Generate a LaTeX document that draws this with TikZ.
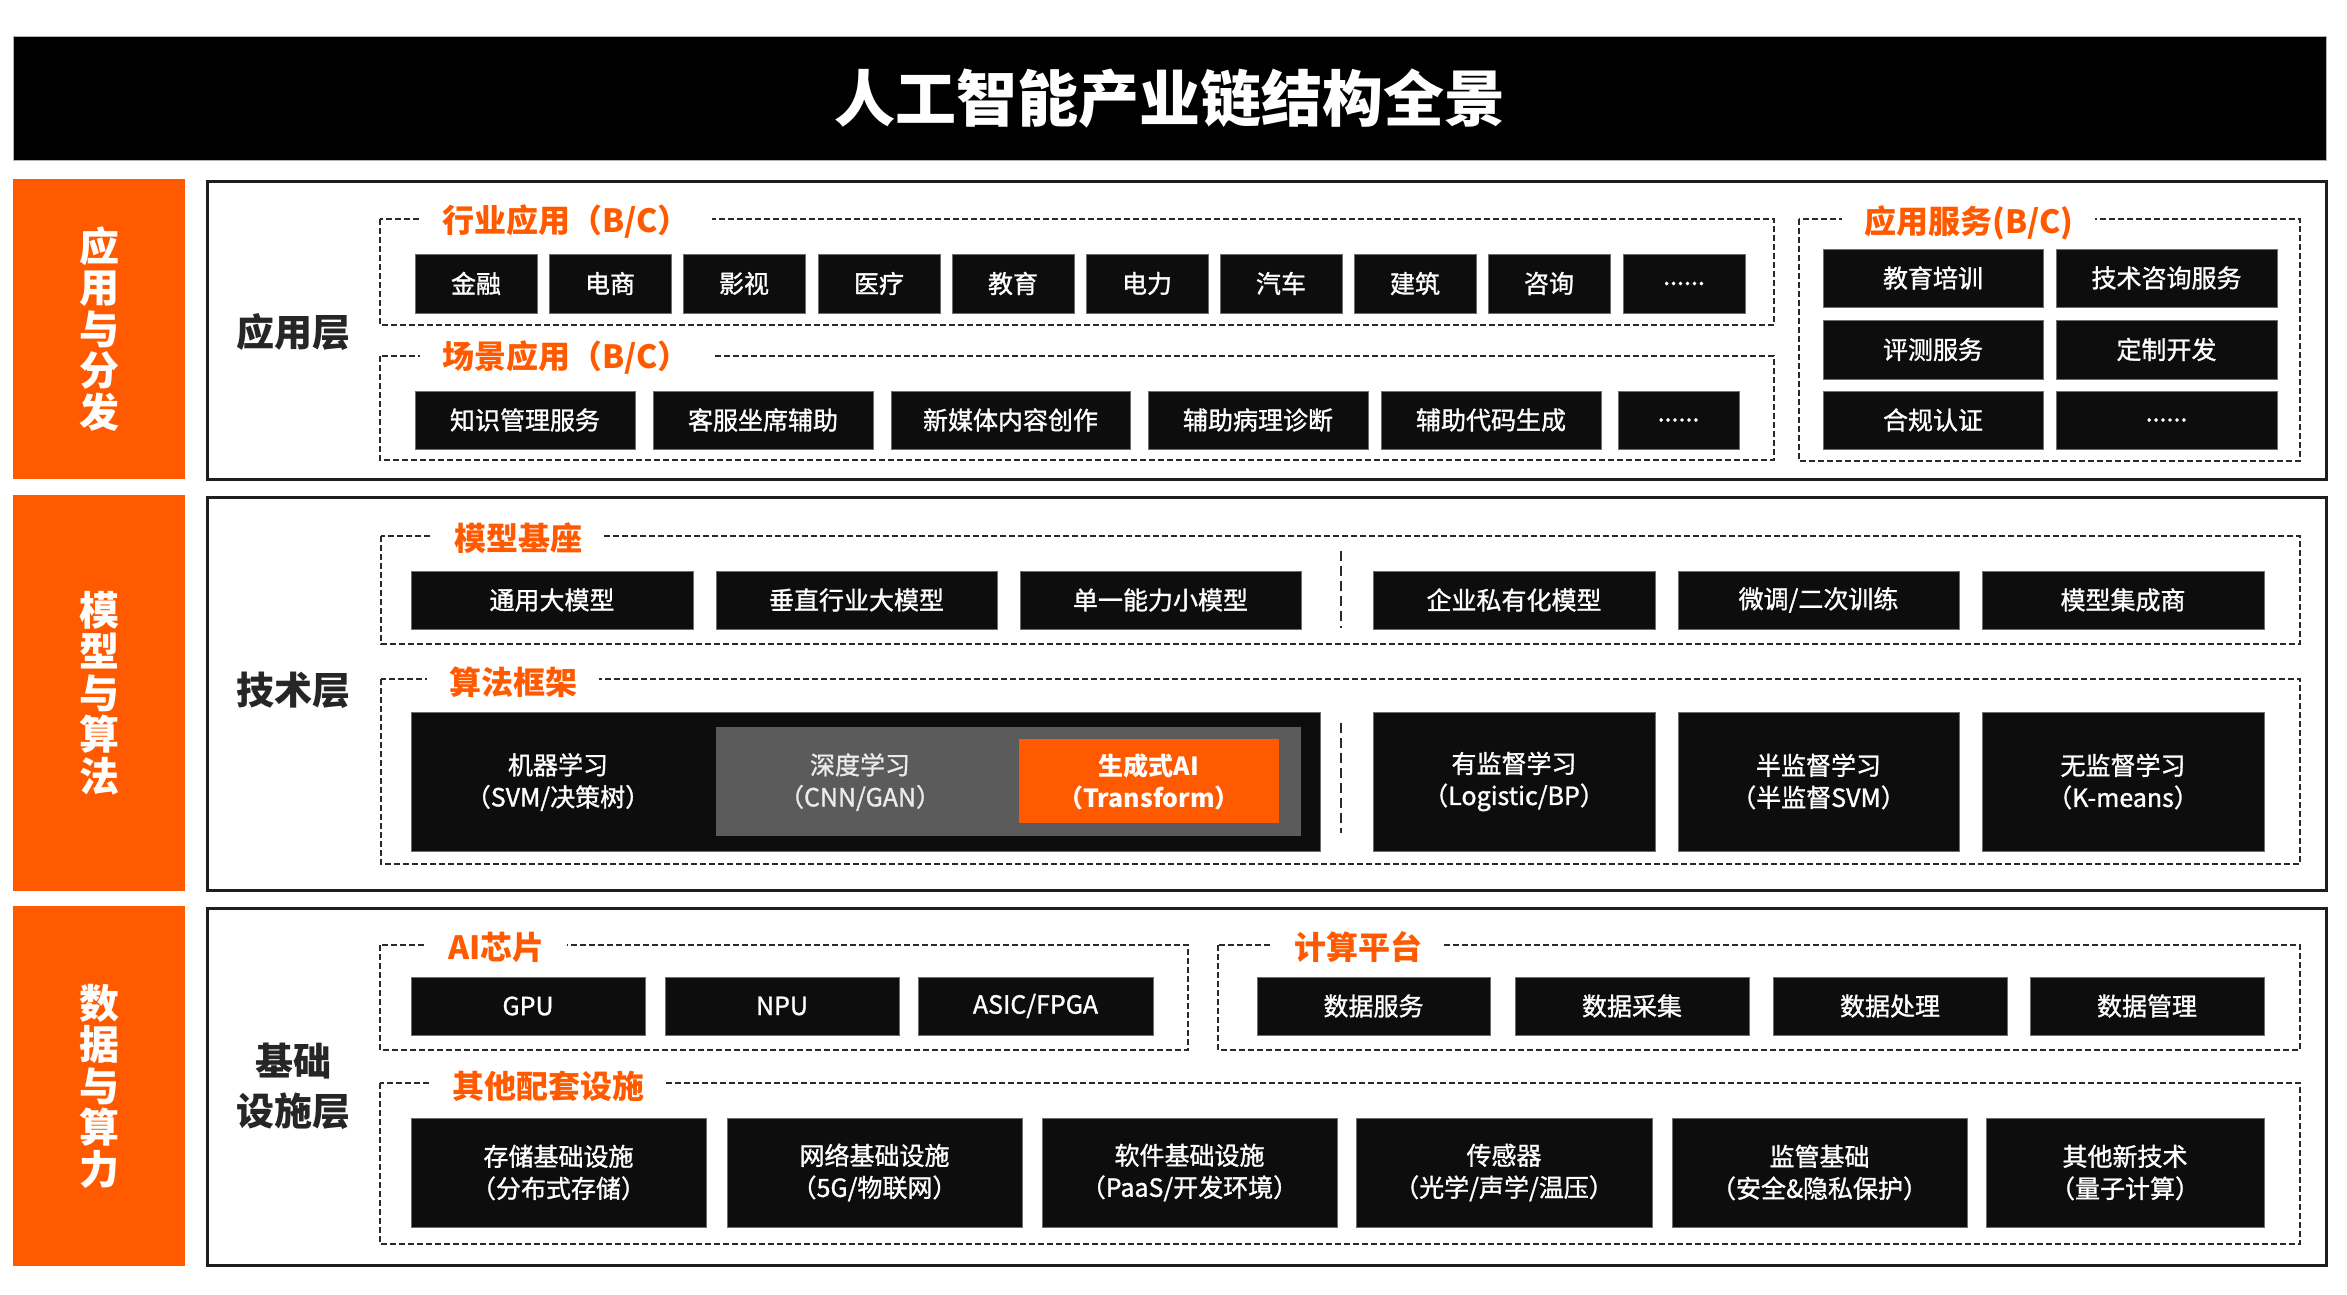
\documentclass[tikz,border=0pt]{standalone}
\usepackage{fontspec}
\setmainfont{Noto Sans CJK SC}
\newfontfamily\medfont[FakeBold=1.2]{Noto Sans CJK SC}
\definecolor{org}{HTML}{FF5A00}
\definecolor{boxbk}{HTML}{0D0D0D}
\definecolor{boxedge}{HTML}{6E6E6E}
\definecolor{grpc}{HTML}{2A2A2A}
\definecolor{secc}{HTML}{1E1E1E}
\definecolor{midgray}{HTML}{5B5B5B}
\definecolor{laytxt}{HTML}{262626}
\newcommand{\rbox}[7][blk]{\node[#1, minimum width={(#5-#3)*1pt}, minimum height={(#6-#4)*1pt}] (#2) at ({(#3+#5)/2},{(#4+#6)/2}) {#7};}
\begin{document}
\begin{tikzpicture}[x=1pt,y=-1pt,
  blk/.style={fill=boxbk, draw=boxedge, line width=0.8pt, text=white, font=\medfont\fontsize{25}{32}\selectfont, align=center, inner sep=0pt},
  titlebar/.style={fill=black, draw=gray!60, line width=1pt, text=white, font=\bfseries\fontsize{61}{61}\selectfont, inner sep=0pt},
  sidebar/.style={fill=org, draw=none, text=white, font=\bfseries\fontsize{40}{41.5}\selectfont, align=center, inner sep=0pt},
  secbox/.style={fill=white, draw=secc, line width=3pt, inner sep=0pt},
  layer/.style={text=laytxt, font=\bfseries\fontsize{38}{50}\selectfont, align=center, inner sep=0pt},
  grp/.style={draw=grpc, line width=1.8pt, dash pattern=on 6pt off 3pt},
  sep/.style={draw=grpc, line width=1.8pt, dash pattern=on 10pt off 5pt},
  glab/.style={fill=white, text=org, font=\bfseries\fontsize{32}{32}\selectfont, inner xsep=22pt, inner ysep=2pt, anchor=west},
  graybox/.style={fill=midgray, draw=none, inner sep=0pt},
  orgbox/.style={fill=org, draw=none, inner sep=0pt},
  intxt/.style={text=white, font=\medfont\fontsize{25}{32}\selectfont, align=center, inner sep=0pt}
]
\useasboundingbox (0,0) rectangle (2347,1295);

% title
\rbox[titlebar]{title}{13}{37}{2326}{160}{人工智能产业链结构全景}

% side bars
\rbox[sidebar]{s1}{13}{179}{185}{479}{应\\用\\与\\分\\发}
\rbox[sidebar]{s2}{13}{495}{185}{891}{模\\型\\与\\算\\法}
\rbox[sidebar]{s3}{13}{906}{185}{1266}{数\\据\\与\\算\\力}

% section boxes
\rbox[secbox]{b1}{207}{181}{2326}{479}{}
\rbox[secbox]{b2}{207}{497}{2326}{890}{}
\rbox[secbox]{b3}{207}{908}{2326}{1265}{}

% layer labels
\node[layer] (l1) at (293,332) {应用层};
\node[layer] (l2) at (293,690) {技术层};
\node[layer] (l3) at (293,1086) {基础\\设施层};

% ===== Application layer =====
\draw[grp] (380,219) rectangle (1774,325);
\node[glab] (g1) at (420,222) {行业应用（B/C）};
\rbox{a1}{415}{254}{537}{313}{金融}
\rbox{a2}{549}{254}{671}{313}{电商}
\rbox{a3}{683}{254}{805}{313}{影视}
\rbox{a4}{818}{254}{940}{313}{医疗}
\rbox{a5}{952}{254}{1074}{313}{教育}
\rbox{a6}{1086}{254}{1208}{313}{电力}
\rbox{a7}{1220}{254}{1342}{313}{汽车}
\rbox{a8}{1354}{254}{1476}{313}{建筑}
\rbox{a9}{1488}{254}{1610}{313}{咨询}
\rbox{a10}{1623}{254}{1745}{313}{......}

\draw[grp] (380,356) rectangle (1774,460);
\node[glab] (g2) at (420,358) {场景应用（B/C）};
\rbox{c1}{415}{391}{635}{449}{知识管理服务}
\rbox{c2}{653}{391}{873}{449}{客服坐席辅助}
\rbox{c3}{891}{391}{1130}{449}{新媒体内容创作}
\rbox{c4}{1148}{391}{1368}{449}{辅助病理诊断}
\rbox{c5}{1381}{391}{1601}{449}{辅助代码生成}
\rbox{c6}{1618}{391}{1739}{449}{......}

\draw[grp] (1799,219) rectangle (2300,461);
\node[glab] (g3) at (1842,223) {应用服务(B/C)};
\rbox{v1}{1823}{249}{2043}{307}{教育培训}
\rbox{v2}{2056}{249}{2277}{307}{技术咨询服务}
\rbox{v3}{1823}{320}{2043}{379}{评测服务}
\rbox{v4}{2056}{320}{2277}{379}{定制开发}
\rbox{v5}{1823}{391}{2043}{449}{合规认证}
\rbox{v6}{2056}{391}{2277}{449}{......}

% ===== Technology layer =====
\draw[grp] (381,536) rectangle (2300,644);
\node[glab] (g4) at (432,538) {模型基座};
\rbox{m1}{411}{571}{693}{629}{通用大模型}
\rbox{m2}{716}{571}{997}{629}{垂直行业大模型}
\rbox{m3}{1020}{571}{1301}{629}{单一能力小模型}
\rbox{m4}{1373}{571}{1655}{629}{企业私有化模型}
\rbox{m5}{1678}{571}{1959}{629}{微调/二次训练}
\rbox{m6}{1982}{571}{2264}{629}{模型集成商}
\coordinate (sa1) at (1341,551);
\coordinate (sa2) at (1341,628);
\draw[sep] (sa1) -- (sa2);

\draw[grp] (381,679) rectangle (2300,864);
\node[glab] (g5) at (427,682) {算法框架};
\rbox{f0}{411}{712}{1320}{851}{}
\rbox[graybox]{fg}{716}{727}{1301}{836}{}
\rbox[orgbox]{fo}{1019}{739}{1279}{823}{}
\node[intxt] (t1) at (558,782) {机器学习\\（SVM/决策树）};
\node[intxt, text=white!92!black] (t2) at (860,782) {深度学习\\（CNN/GAN）};
\node[intxt, font=\bfseries\fontsize{25}{32}\selectfont] (t3) at (1149,782) {生成式AI\\（Transform）};
\rbox{f1}{1373}{712}{1655}{851}{有监督学习\\（Logistic/BP）}
\rbox{f2}{1678}{712}{1959}{851}{半监督学习\\（半监督SVM）}
\rbox{f3}{1982}{712}{2264}{851}{无监督学习\\（K-means）}
\coordinate (sb1) at (1341,723);
\coordinate (sb2) at (1341,833);
\draw[sep] (sb1) -- (sb2);

% ===== Infrastructure layer =====
\draw[grp] (380,945) rectangle (1188,1050);
\node[glab] (g6) at (426,947) {AI芯片};
\rbox{h1}{411}{977}{645}{1035}{GPU}
\rbox{h2}{665}{977}{899}{1035}{NPU}
\rbox{h3}{918}{977}{1153}{1035}{ASIC/FPGA}

\draw[grp] (1218,945) rectangle (2300,1050);
\node[glab] (g7) at (1272,947) {计算平台};
\rbox{d1}{1257}{977}{1490}{1035}{数据服务}
\rbox{d2}{1515}{977}{1749}{1035}{数据采集}
\rbox{d3}{1773}{977}{2007}{1035}{数据处理}
\rbox{d4}{2030}{977}{2264}{1035}{数据管理}

\draw[grp] (380,1083) rectangle (2300,1244);
\node[glab] (g8) at (430,1086) {其他配套设施};
\rbox{e1}{411}{1118}{706}{1227}{存储基础设施\\（分布式存储）}
\rbox{e2}{727}{1118}{1022}{1227}{网络基础设施\\（5G/物联网）}
\rbox{e3}{1042}{1118}{1337}{1227}{软件基础设施\\（PaaS/开发环境）}
\rbox{e4}{1356}{1118}{1652}{1227}{传感器\\（光学/声学/温压）}
\rbox{e5}{1672}{1118}{1967}{1227}{监管基础\\（安全\&隐私保护）}
\rbox{e6}{1986}{1118}{2264}{1227}{其他新技术\\（量子计算）}
\end{tikzpicture}
\end{document}
